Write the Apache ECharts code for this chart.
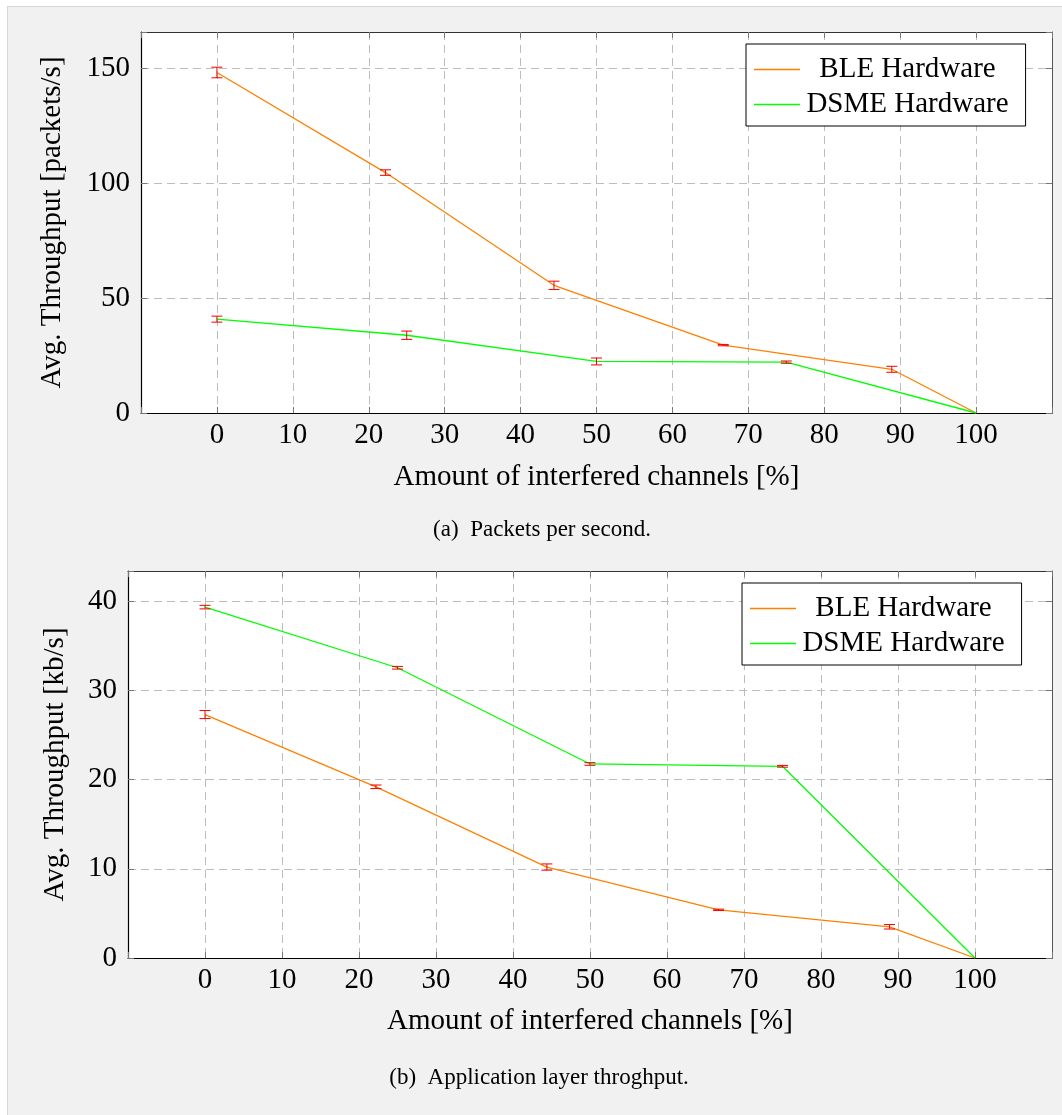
<!DOCTYPE html>
<html>
<head>
<meta charset="utf-8">
<title>Throughput vs. interfered channels</title>
<script src="https://cdn.jsdelivr.net/npm/echarts@6/dist/echarts.min.js"></script>
<style>
  html, body { margin: 0; padding: 0; background: #ffffff; }
  #panel {
    position: absolute; left: 7px; top: 6px; width: 1055px; height: 1109px;
    background: #f1f1f1; border-left: 1px solid #d6d6d6; border-top: 1px solid #d6d6d6;
  }
  #chart { position: absolute; left: 0; top: 0; width: 1062px; height: 1115px; }
</style>
</head>
<body>
<div id="panel"></div>
<div id="chart"></div>
<script>
// Share of interfered channels [%] at which each stack was measured
const bleX = [0, 22.2, 44.4, 66.7, 88.9, 100];
const dsmeX = [0, 25, 50, 75, 100];

// (a) packets per second, mean and error half-width
const blePackets = [148, 104.5, 55.5, 29.5, 19, 0];
const blePacketsErr = [2.3, 1.2, 1.8, 0.3, 1.3, 0];
const dsmePackets = [40.8, 33.8, 22.4, 22.1, 0];
const dsmePacketsErr = [1.3, 1.8, 1.5, 0.5, 0];

// (b) application layer throughput in kb/s, mean and error half-width
const bleKbps = [27.3, 19.2, 10.2, 5.4, 3.5, 0];
const bleKbpsErr = [0.45, 0.2, 0.35, 0.08, 0.25, 0];
const dsmeKbps = [39.35, 32.55, 21.76, 21.5, 0];
const dsmeKbpsErr = [0.2, 0.15, 0.15, 0.1, 0];

const seriesNames = ['BLE Hardware', 'DSME Hardware'];
const xTitle = 'Amount of interfered channels [%]';
const yTitles = ['Avg. Throughput [packets/s]', 'Avg. Throughput [kb/s]'];
const captions = ['(a)  Packets per second.', '(b)  Application layer throghput.'];

const FONT = '"Liberation Serif", "Times New Roman", serif';
const ORANGE = '#ff8000';
const GREEN = '#00ff00';
const RED = '#f00000';

const grids = [
  { left: 141, top: 32, width: 911, height: 381 },
  { left: 128, top: 571, width: 924, height: 387 }
];
const yRanges = [
  { max: 165.6, interval: 50, nameGap: 74 },
  { max: 43.4, interval: 10, nameGap: 58 }
];

function tickFilter(step, lo, hi) {
  return v => {
    const r = Math.round(v / step) * step;
    if (Math.abs(v - r) > 1e-6 || v < lo || v > hi) return '';
    return String(r);
  };
}

function pairs(xs, ys) { return xs.map((x, i) => [x, ys[i]]); }

function errorBars(xs, ys, errs, idx) {
  return {
    type: 'custom',
    xAxisIndex: idx * 2,
    yAxisIndex: idx * 2,
    silent: true,
    z: 4,
    data: xs.map((x, i) => [x, ys[i] - errs[i], ys[i] + errs[i], errs[i]]),
    encode: { x: 0, y: [1, 2] },
    renderItem(params, api) {
      if (api.value(3) <= 0) return null;
      const lo = api.coord([api.value(0), api.value(1)]);
      const hi = api.coord([api.value(0), api.value(2)]);
      const w = 5.5;
      const st = { stroke: RED, lineWidth: 1 };
      return {
        type: 'group',
        children: [
          { type: 'line', shape: { x1: lo[0], y1: lo[1], x2: hi[0], y2: hi[1] }, style: st },
          { type: 'line', shape: { x1: lo[0] - w, y1: lo[1], x2: lo[0] + w, y2: lo[1] }, style: st },
          { type: 'line', shape: { x1: hi[0] - w, y1: hi[1], x2: hi[0] + w, y2: hi[1] }, style: st }
        ]
      };
    }
  };
}

function lineSeries(name, xs, ys, color, idx) {
  return {
    type: 'line',
    name: name,
    xAxisIndex: idx * 2,
    yAxisIndex: idx * 2,
    data: pairs(xs, ys),
    symbol: 'none',
    lineStyle: { color: color, width: 1.3 },
    itemStyle: { color: color },
    z: 3,
    animation: false
  };
}

const tickStyle = { show: true, inside: true, length: 6, lineStyle: { color: '#777' } };
const gridLine = { show: true, lineStyle: { color: '#bdbdbd', type: [8, 5], width: 1 } };

const xAxes = [];
const yAxes = [];
grids.forEach((g, i) => {
  const common = {
    gridIndex: i, type: 'value', min: -10, max: 110, interval: 10
  };
  xAxes.push(Object.assign({}, common, {
    position: 'bottom',
    name: xTitle,
    nameLocation: 'middle',
    nameGap: i === 0 ? 50 : 49,
    nameTextStyle: { fontFamily: FONT, fontSize: 29, color: '#000' },
    axisLine: { show: true, onZero: false, lineStyle: { color: '#000', width: 1.2 } },
    axisTick: tickStyle,
    axisLabel: { fontFamily: FONT, fontSize: 29, color: '#000', margin: 8,
                 formatter: tickFilter(10, 0, 100) },
    splitLine: gridLine
  }));
  xAxes.push(Object.assign({}, common, {
    position: 'top',
    axisLine: { show: true, onZero: false, lineStyle: { color: '#333', width: 1 } },
    axisTick: tickStyle,
    axisLabel: { show: false },
    splitLine: { show: false }
  }));
  const yr = yRanges[i];
  const yCommon = { gridIndex: i, type: 'value', min: 0, max: yr.max, interval: yr.interval };
  yAxes.push(Object.assign({}, yCommon, {
    position: 'left',
    name: yTitles[i],
    nameLocation: 'middle',
    nameGap: yr.nameGap,
    nameTextStyle: { fontFamily: FONT, fontSize: 29, color: '#000' },
    axisLine: { show: true, onZero: false, lineStyle: { color: '#000', width: 1.2 } },
    axisTick: tickStyle,
    axisLabel: { fontFamily: FONT, fontSize: 29, color: '#000', margin: 11,
                 formatter: tickFilter(yr.interval, 0, yr.max) },
    splitLine: gridLine
  }));
  yAxes.push(Object.assign({}, yCommon, {
    position: 'right',
    axisLine: { show: true, onZero: false, lineStyle: { color: '#555', width: 1 } },
    axisTick: tickStyle,
    axisLabel: { show: false },
    splitLine: { show: false }
  }));
});

function legendFor(left, top) {
  return {
    orient: 'vertical',
    left: left, top: top,
    data: seriesNames.map(n => ({ name: n, icon: 'rect' })),
    selectedMode: false,
    backgroundColor: '#fff',
    borderColor: '#000',
    borderWidth: 1,
    borderRadius: 0,
    padding: [11, 17, 7, 8],
    itemGap: 6,
    itemWidth: 46,
    itemHeight: 1.4,
    formatter: name => '{t|' + name + '}',
    textStyle: {
      fontFamily: FONT, fontSize: 29, color: '#000',
      rich: { t: { width: 205, align: 'center', fontFamily: FONT, fontSize: 29, color: '#000' } }
    }
  };
}

const option = {
  animation: false,
  backgroundColor: 'transparent',
  grid: grids.map(g => Object.assign({ show: true, backgroundColor: '#fff', borderWidth: 0 }, g)),
  xAxis: xAxes,
  yAxis: yAxes,
  legend: [legendFor(746, 44), legendFor(742, 583)],
  graphic: [
    { type: 'text', x: 542, y: 530, style: { text: captions[0], font: '23px ' + FONT, fill: '#000',
      textAlign: 'center', textVerticalAlign: 'middle' } },
    { type: 'text', x: 539, y: 1078, style: { text: captions[1], font: '23px ' + FONT, fill: '#000',
      textAlign: 'center', textVerticalAlign: 'middle' } }
  ],
  series: [
    lineSeries(seriesNames[0], bleX, blePackets, ORANGE, 0),
    lineSeries(seriesNames[1], dsmeX, dsmePackets, GREEN, 0),
    errorBars(bleX, blePackets, blePacketsErr, 0),
    errorBars(dsmeX, dsmePackets, dsmePacketsErr, 0),
    lineSeries(seriesNames[0], bleX, bleKbps, ORANGE, 1),
    lineSeries(seriesNames[1], dsmeX, dsmeKbps, GREEN, 1),
    errorBars(bleX, bleKbps, bleKbpsErr, 1),
    errorBars(dsmeX, dsmeKbps, dsmeKbpsErr, 1)
  ]
};

const chart = echarts.init(document.getElementById('chart'), null, { renderer: 'canvas' });
chart.setOption(option);
</script>
</body>
</html>
